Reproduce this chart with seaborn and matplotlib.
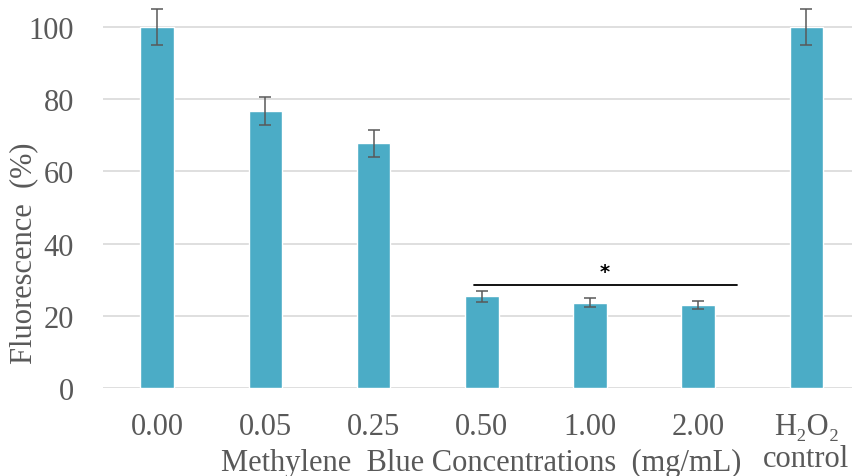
import matplotlib
matplotlib.use("Agg")
import matplotlib.pyplot as plt
import seaborn as sns
import pandas as pd

# Fluorescence data per methylene blue concentration
categories = ["0.00", "0.05", "0.25", "0.50", "1.00", "2.00", "H₂O₂\ncontrol"]
fluorescence = [100.0, 76.7, 67.8, 25.4, 23.6, 22.9, 100.0]
errors = [4.9, 3.8, 3.7, 1.5, 1.3, 1.1, 4.9]

# significance bracket spanning the highest concentrations
sig_span = [2.93, 5.36]
sig_level = 28.4
sig_label = "*"

sns.set_theme(style="white")
serif = ["Liberation Serif", "DejaVu Serif"]
plt.rcParams["font.family"] = serif

text_grey = "#595959"
bar_color = "#4BACC6"
fsize = 22

df = pd.DataFrame({"category": categories, "fluorescence": fluorescence})

fig = plt.figure(figsize=(8.53, 4.77), dpi=100)
ax = fig.add_axes([103 / 853, (477 - 389) / 477, 1 - 103 / 853, 389 / 477])

sns.barplot(data=df, x="category", y="fluorescence", color=bar_color,
            width=0.31, saturation=1, ax=ax, errorbar=None, zorder=3)

ax.errorbar(range(len(categories)), fluorescence, yerr=errors, fmt="none",
            ecolor="#595959", elinewidth=1.1, capsize=4, capthick=1.1, zorder=4,
            clip_on=False)

ax.set_xlim(-0.5, 6.43)
ax.set_ylim(0, 107.75)
ax.set_yticks([0, 20, 40, 60, 80, 100])
ax.yaxis.grid(True, color="#D9D9D9", linewidth=1.2, zorder=0)
ax.set_axisbelow(True)
for s in ax.spines.values():
    s.set_visible(False)

ax.tick_params(axis="both", length=0, labelsize=fsize, colors=text_grey)
ax.tick_params(axis="y", pad=21)
ax.tick_params(axis="x", pad=17)
for lbl in ax.get_xticklabels():
    lbl.set_linespacing(1.15)
    lbl.set_verticalalignment("top")

ax.set_xlabel("")
ax.set_ylabel("")
fig.text(481 / 853, 1 - 463 / 477, "Methylene  Blue Concentrations  (mg/mL)",
         ha="center", va="center", fontsize=fsize, color=text_grey)
fig.text(24 / 853, 1 - 253 / 477, "Fluorescence  (%)", rotation=90,
         ha="center", va="center", fontsize=fsize, color=text_grey)

# significance line and marker
ax.plot(sig_span, [sig_level, sig_level], color="black", linewidth=1.3, zorder=5)
ax.text(sum(sig_span) / 2 - 0.01, sig_level + 3.8, sig_label, ha="center",
        va="center", fontsize=14, fontweight="bold", color="black",
        family=["DejaVu Sans"])

fig.savefig("out.png", dpi=100)
